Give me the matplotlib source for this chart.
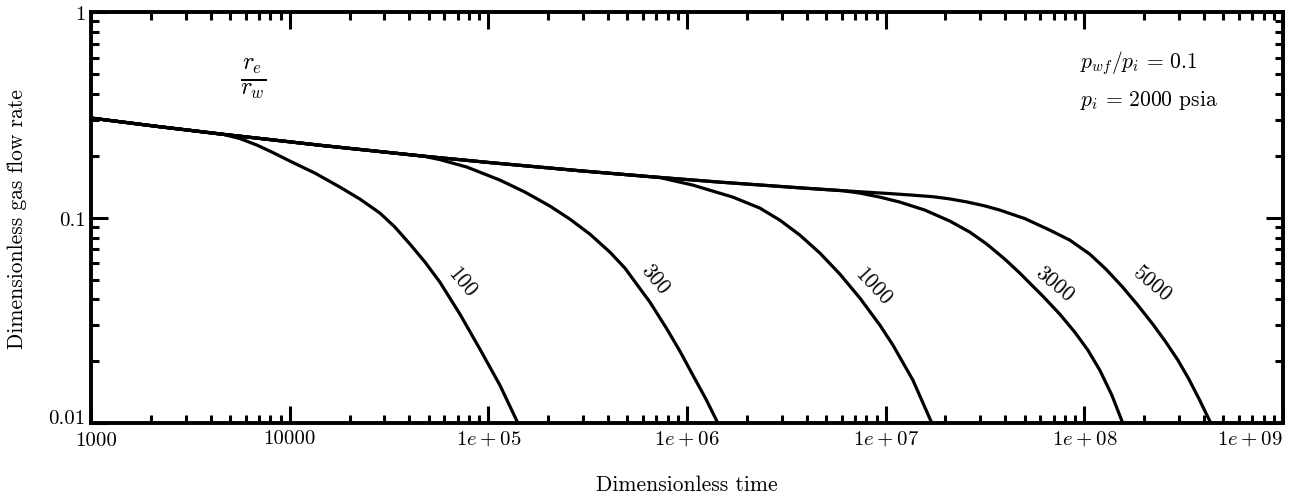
import matplotlib
matplotlib.use("Agg")
import matplotlib.pyplot as plt
import matplotlib.transforms as mtransforms
from matplotlib.ticker import FixedLocator, FixedFormatter, LogLocator, NullFormatter

plt.rcParams['font.family'] = ['cmr10', 'DejaVu Serif']
plt.rcParams['mathtext.fontset'] = 'cm'
plt.rcParams['axes.formatter.use_mathtext'] = True

# Shared infinite-acting part
env_t = [1000, 2149, 4616, 14710, 46870, 101880, 289100, 628400, 1.4644e6, 3.700e6, 6.089e6, 1.0498e7]
env_q = [0.305, 0.2778, 0.2543, 0.2241, 0.1992, 0.1852, 0.1690, 0.1587, 0.1488, 0.1396, 0.1352, 0.1309]

# Boundary-dominated branches for each re/rw
t_100 = [5623, 6843, 8241, 10035, 13405, 17910, 22590, 28470, 33870, 40310, 47960, 57060, 71960,
         90730, 114350, 140900]
q_100 = [0.2423, 0.2253, 0.2071, 0.1883, 0.1646, 0.1407, 0.1230, 0.1052, 0.0899, 0.0743, 0.0608,
         0.0485, 0.0339, 0.0229, 0.0153, 0.01]

t_300 = [57060, 78050, 114400, 152900, 204200, 257500, 324500, 409300, 486900, 650600, 792300,
         921100, 1.071e6, 1.245e6, 1.431e6]
q_300 = [0.1915, 0.1761, 0.1522, 0.1331, 0.1138, 0.0983, 0.0831, 0.0679, 0.0568, 0.0388, 0.0287,
         0.0224, 0.0171, 0.0131, 0.01]

t_1000 = [730500, 1.071e6, 1.702e6, 2.328e6, 2.934e6, 3.700e6, 4.666e6, 5.884e6, 7.418e6, 9.350e6,
          1.087e7, 1.371e7, 1.708e7]
q_1000 = [0.1566, 0.1439, 0.1258, 0.1112, 0.0972, 0.0822, 0.0672, 0.0531, 0.0406, 0.0300, 0.0240,
          0.0162, 0.01]

t_3000 = [7.418e6, 9.350e6, 1.179e7, 1.575e7, 2.104e7, 2.653e7, 3.231e7, 3.980e7, 4.736e7, 5.443e7,
          6.182e7, 7.527e7, 8.958e7, 1.041e8, 1.197e8, 1.375e8, 1.562e8]
q_3000 = [0.1316, 0.1258, 0.1190, 0.1088, 0.0962, 0.0850, 0.0743, 0.0628, 0.0537, 0.0469, 0.0415,
          0.0339, 0.0277, 0.0227, 0.0181, 0.0137, 0.01]

t_5000 = [1.355e7, 1.728e7, 2.104e7, 2.563e7, 3.158e7, 3.757e7, 5.019e7, 6.706e7, 8.453e7, 1.066e8,
          1.283e8, 1.544e8, 1.859e8, 2.212e8, 2.572e8, 2.955e8, 3.357e8, 3.814e8, 4.331e8]
q_5000 = [0.1287, 0.1264, 0.1233, 0.1192, 0.1140, 0.1088, 0.0989, 0.0869, 0.0777, 0.0664,
          0.0562, 0.0464, 0.0375, 0.0303, 0.0248, 0.0203, 0.0164, 0.0129, 0.01]

# last envelope time each curve still follows
depart_t = [4616, 46870, 628400, 6.089e6, 1.0498e7]

curve_labels = ['100', '300', '1000', '3000', '5000']
label_t = [74000, 690000, 8.6e6, 7.1e7, 2.2e8]
label_q = [0.0490, 0.0505, 0.0465, 0.0480, 0.0480]
label_rot = [-50, -50, -47, -40, -40]

x_ticks = [1e3, 1e4, 1e5, 1e6, 1e7, 1e8, 1e9]
x_ticklabels = ['1000', '10000', r'$1e+05$', r'$1e+06$', r'$1e+07$', r'$1e+08$', r'$1e+09$']
y_ticks = [0.01, 0.1, 1]
y_ticklabels = ['0.01', '0.1', '1']

fig = plt.figure(figsize=(12.97, 5.02), dpi=100)
ax = fig.add_axes([0.0702, 0.155, 0.919, 0.819])

branches = [(t_100, q_100), (t_300, q_300), (t_1000, q_1000), (t_3000, q_3000), (t_5000, q_5000)]
for (tb, qb), td in zip(branches, depart_t):
    te = [t for t in env_t if t <= td]
    qe = env_q[:len(te)]
    ax.plot(te + tb, qe + qb, color='black', lw=2.3, solid_joinstyle='round', solid_capstyle='round')

ax.set_xscale('log')
ax.set_yscale('log')
ax.set_xlim(1e3, 1e9)
ax.set_ylim(0.01, 1)

ax.xaxis.set_major_locator(FixedLocator(x_ticks))
ax.xaxis.set_major_formatter(FixedFormatter(x_ticklabels))
ax.yaxis.set_major_locator(FixedLocator(y_ticks))
ax.yaxis.set_major_formatter(FixedFormatter(y_ticklabels))
ax.xaxis.set_minor_locator(LogLocator(base=10, subs=range(2, 10)))
ax.yaxis.set_minor_locator(LogLocator(base=10, subs=range(2, 10)))
ax.xaxis.set_minor_formatter(NullFormatter())
ax.yaxis.set_minor_formatter(NullFormatter())

ax.tick_params(which='both', direction='in', top=True, right=True, labelsize=15, color='black')
ax.tick_params(which='major', length=12, width=2.2, pad=4)
ax.tick_params(which='minor', length=6, width=2.2)
for s in ax.spines.values():
    s.set_linewidth(2.8)

xl = ax.get_xticklabels()
xl[-1].set_horizontalalignment('right')
xl[0].set_transform(xl[0].get_transform() + mtransforms.ScaledTranslation(4 / 72, -2 / 72, fig.dpi_scale_trans))
yl = ax.get_yticklabels()
yl[0].set_transform(yl[0].get_transform() + mtransforms.ScaledTranslation(0, 5 / 72, fig.dpi_scale_trans))

ax.set_xlabel('Dimensionless time', fontsize=15.5)
ax.set_ylabel('Dimensionless gas flow rate', fontsize=15.5)
ax.xaxis.set_label_coords(0.5, -0.125)
ax.yaxis.set_label_coords(-0.054, 0.5)

for lab, lt, lq, rot in zip(curve_labels, label_t, label_q, label_rot):
    ax.text(lt, lq, lab, rotation=rot, fontsize=15.5, ha='center', va='center', rotation_mode='anchor')

ax.text(6530, 0.477, r'$\frac{r_e}{r_w}$', fontsize=25, ha='center', va='center')
ax.text(0.830, 0.878, r'$p_{wf}/p_i\,=\,0.1$', transform=ax.transAxes, fontsize=15.5, ha='left', va='center')
ax.text(0.830, 0.788, r'$p_i\,=\,2000$ psia', transform=ax.transAxes, fontsize=15.5, ha='left', va='center')

fig.savefig('out.png', dpi=100)
